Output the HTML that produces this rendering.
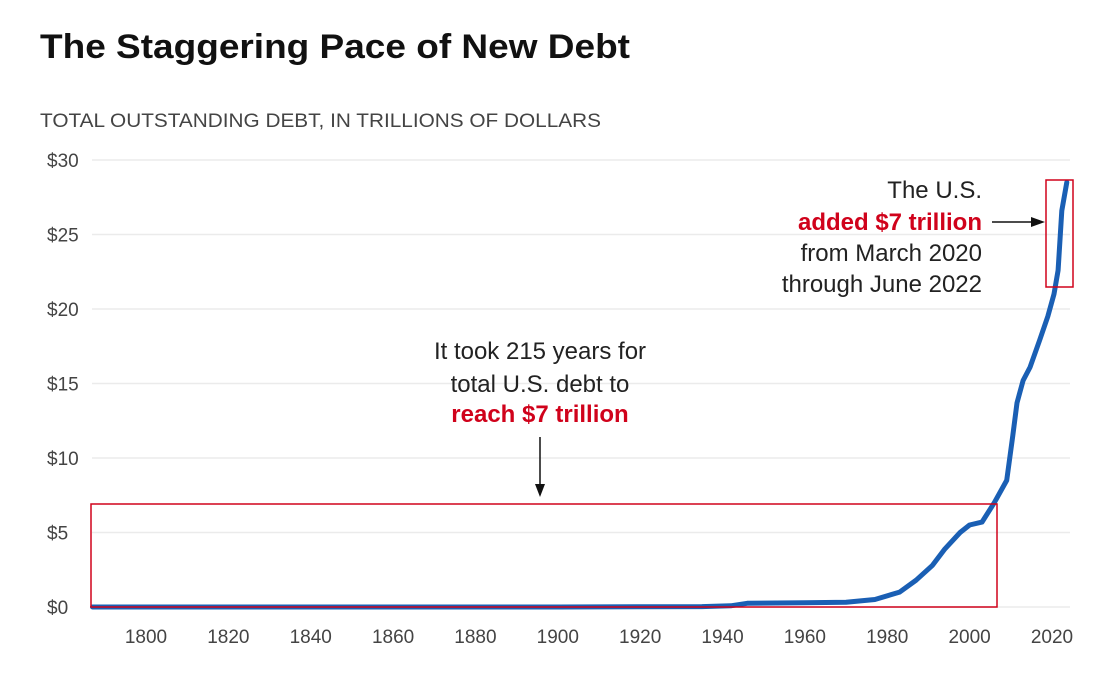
<!DOCTYPE html>
<html><head><meta charset="utf-8"><style>
body{margin:0;background:#fff;}
svg{display:block;font-family:"Liberation Sans",sans-serif;}
</style></head><body>
<svg id="chart" width="1098" height="673" viewBox="0 0 1098 673">
<text x="40" y="58" font-size="34" font-weight="bold" fill="#111" textLength="590" lengthAdjust="spacingAndGlyphs">The Staggering Pace of New Debt</text>
<text x="40" y="127" font-size="19" fill="#444" textLength="561" lengthAdjust="spacingAndGlyphs">TOTAL OUTSTANDING DEBT, IN TRILLIONS OF DOLLARS</text>
<g id="grid"></g><g id="yticks"></g><g id="xticks"></g>
<path id="line" fill="none" stroke="#1a5fb4" stroke-width="5" stroke-linejoin="round" stroke-linecap="round"/>
<rect x="91" y="504" width="906" height="103" fill="none" stroke="#d0021b" stroke-width="1.5"/>
<rect x="1046" y="180" width="27" height="107" fill="none" stroke="#d0021b" stroke-width="1.5"/>
<g font-size="24" text-anchor="middle">
<text x="540" y="359" fill="#222">It took 215 years for</text>
<text x="540" y="392" fill="#222">total U.S. debt to</text>
<text x="540" y="422" fill="#d0021b" font-weight="bold">reach $7 trillion</text>
</g>
<line x1="540" y1="437" x2="540" y2="488" stroke="#111" stroke-width="1.5"/>
<polygon points="535,484 545,484 540,497" fill="#111"/>
<g font-size="24" text-anchor="end">
<text x="982" y="198" fill="#222">The U.S.</text>
<text x="982" y="230" fill="#d0021b" font-weight="bold">added $7 trillion</text>
<text x="982" y="261" fill="#222">from March 2020</text>
<text x="982" y="292" fill="#222">through June 2022</text>
</g>
<line x1="992" y1="222" x2="1033" y2="222" stroke="#111" stroke-width="1.5"/>
<polygon points="1031,217 1031,227 1045,222" fill="#111"/>
</svg>
<script>
const years=[1787,1850,1900,1935,1942,1946,1960,1970,1977,1983,1987,1991,1994,1997.7,2000,2003,2006,2009,2010.5,2011.5,2013,2014.7,2017,2019,2020.5,2021.5,2022.4,2023.6];
const debt=[0,0,0,0.03,0.08,0.25,0.28,0.32,0.5,1.0,1.8,2.8,3.9,5.0,5.5,5.7,7.0,8.5,11.5,13.7,15.2,16.1,17.9,19.5,21.0,22.6,26.6,28.5];
const yTicks=[0,5,10,15,20,25,30];
const xTicks=[1800,1820,1840,1860,1880,1900,1920,1940,1960,1980,2000,2020];
const xs=y=>146+(y-1800)*4.118;
const ys=v=>607-v*14.9;
const ns="http://www.w3.org/2000/svg";
const grid=document.getElementById('grid'),yt=document.getElementById('yticks'),xt=document.getElementById('xticks');
yTicks.forEach(t=>{
 const l=document.createElementNS(ns,'line');
 l.setAttribute('x1',92);l.setAttribute('x2',1070);l.setAttribute('y1',ys(t));l.setAttribute('y2',ys(t));
 l.setAttribute('stroke','#ebebeb');l.setAttribute('stroke-width','1.5');
 
 
 grid.appendChild(l);
 const tx=document.createElementNS(ns,'text');
 tx.setAttribute('x',47);tx.setAttribute('y',ys(t)+7);tx.setAttribute('font-size','19');tx.setAttribute('fill','#444');
 tx.textContent='$'+t;
 
 
 yt.appendChild(tx);
});
xTicks.forEach(t=>{
 const tx=document.createElementNS(ns,'text');
 tx.setAttribute('x',xs(t));tx.setAttribute('y',643);tx.setAttribute('font-size','19');tx.setAttribute('fill','#444');tx.setAttribute('text-anchor','middle');
 tx.textContent=t;
 
 
 xt.appendChild(tx);
});
let d='';years.forEach((y,i)=>{d+=(i?'L':'M')+xs(y).toFixed(1)+','+ys(debt[i]).toFixed(1);});
document.getElementById('line').setAttribute('d',d);
</script>
</body></html>
